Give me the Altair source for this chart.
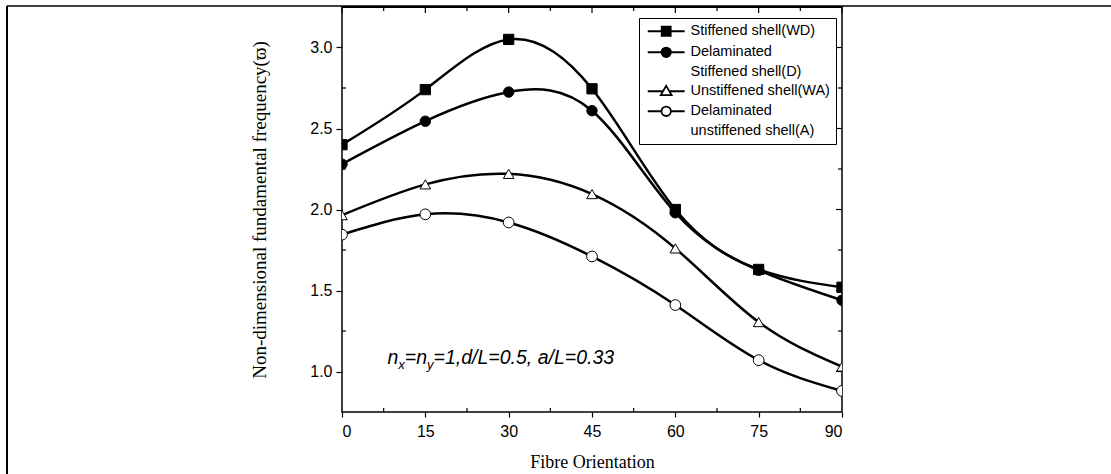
import altair as alt
import pandas as pd

# ---- data ----
orientation = [0, 15, 30, 45, 60, 75, 90]
stiffened_wd = [2.40, 2.74, 3.05, 2.745, 2.00, 1.63, 1.52]
delam_stiff_d = [2.28, 2.545, 2.725, 2.61, 1.98, 1.625, 1.44]
unstiff_wa = [1.965, 2.155, 2.22, 2.095, 1.76, 1.305, 1.03]
delam_unstiff_a = [1.845, 1.97, 1.92, 1.71, 1.41, 1.07, 0.88]

series_keys = ["WD", "D", "WA", "A"]
legend_keys = ["WD", "D", "D2", "WA", "A", "A2"]
legend_labels = ["Stiffened shell(WD)", "Delaminated", "Stiffened shell(D)",
                 "Unstiffened shell(WA)", "Delaminated", "unstiffened shell(A)"]

x_ticks = [0, 15, 30, 45, 60, 75, 90]
x_minor = [7.5, 22.5, 37.5, 52.5, 67.5, 82.5]
y_ticks = [1.0, 1.5, 2.0, 2.5, 3.0]
y_minor = [1.25, 1.75, 2.25, 2.75]

anno_pieces = ["n", "x", "=n", "y", "=1,d/L=0.5, a/L=0.33"]

# ---- tables ----
rows = []
for key, vals in zip(series_keys, [stiffened_wd, delam_stiff_d, unstiff_wa, delam_unstiff_a]):
    for o, v in zip(orientation, vals):
        rows.append({"orientation": o, "value": v, "series": key, "lkey": key})
df = pd.DataFrame(rows)

W, H = 500, 405
SANS = "Liberation Sans"
SERIF = "Liberation Serif"

x_scale = alt.Scale(domain=[0, 90], nice=False, zero=False)
y_scale = alt.Scale(domain=[0.75, 3.25], nice=False, zero=False)
x_axis = alt.Axis(values=x_ticks, title="Fibre Orientation", grid=False, domain=False,
                  tickSize=5, tickColor="black", tickWidth=1.2, labelPadding=6,
                  labelFont=SANS, labelFontSize=16, labelColor="black",
                  titleFont=SERIF, titleFontSize=18, titleFontWeight="normal",
                  titleColor="black", titlePadding=14)
y_axis = alt.Axis(values=y_ticks, format=".1f", title="Non-dimensional fundamental frequency(\u03d6)",
                  grid=False, domain=False, tickSize=6, tickColor="black", tickWidth=1.2,
                  labelPadding=4, labelFont=SANS, labelFontSize=16, labelColor="black",
                  titleFont=SERIF, titleFontSize=19, titleFontWeight="normal",
                  titleColor="black", titlePadding=40)
X = alt.X("orientation:Q", scale=x_scale, axis=x_axis)
Y = alt.Y("value:Q", scale=y_scale, axis=y_axis)

base = alt.Chart(df)

lines = base.mark_line(interpolate="natural", color="black", strokeWidth=2.5).encode(
    x=X, y=Y, detail="series:N")

points = base.mark_point(filled=True, stroke="black", strokeWidth=1, opacity=1, clip=True).encode(
    x=X, y=Y,
    shape=alt.Shape("series:N", scale=alt.Scale(domain=series_keys,
                    range=["square", "circle", "triangle-up", "circle"]), legend=None),
    fill=alt.Fill("series:N", scale=alt.Scale(domain=series_keys,
                  range=["black", "black", "white", "white"]), legend=None),
    size=alt.Size("series:N", scale=alt.Scale(domain=series_keys, range=[105, 115, 140, 115]), legend=None),
)

# legend symbols: line + marker (unit = 4.5 px)
m = 3.1
L0, L1 = -1, 7.2
p_square = f"M{L0},0H{m-1}M{m+1},0H{L1}M{m-1},-1H{m+1}V1H{m-1}Z"
p_circle = f"M{L0},0H{m-1.05}M{m+1.05},0H{L1}M{m-1.05},0A1.05,1.05 0 1,0 {m+1.05},0A1.05,1.05 0 1,0 {m-1.05},0Z"
p_tri = f"M{L0},0H{m-0.66}M{m+0.66},0H{L1}M{m},-1.2L{m+1.2},0.85H{m-1.2}Z"
p_none = "M0,0"
legend_paths = [p_square, p_circle, p_none, p_tri, p_circle, p_none]
legend_fills = ["black", "black", "white", "white", "white", "white"]
legend_strokes = ["black", "black", "white", "black", "black", "white"]

label_expr = " : ".join([f"datum.value == '{k}' ? '{t}'" for k, t in zip(legend_keys, legend_labels)]) + " : datum.label"

leg = alt.Legend(title=None, orient="none", legendX=297, legendY=11, labelExpr=label_expr,
                 labelFont=SANS, labelFontSize=14.5, labelColor="black", labelLimit=400,
                 padding=6, strokeColor="black", fillColor="white", cornerRadius=0,
                 symbolSize=81, symbolStrokeWidth=1.8,
                 symbolOpacity=1, labelOffset=31, rowPadding=3)

legend_layer = base.mark_point(filled=True, opacity=0, size=81).encode(
    x=X, y=Y,
    shape=alt.Shape("lkey:N", scale=alt.Scale(domain=legend_keys, range=legend_paths), legend=leg),
    fill=alt.Fill("lkey:N", scale=alt.Scale(domain=legend_keys, range=legend_fills), legend=leg),
    stroke=alt.Stroke("lkey:N", scale=alt.Scale(domain=legend_keys, range=legend_strokes), legend=leg),
)

# annotation (italic, with subscripts)
anno_x, anno_y = 8.2, 1.045
anno_dx = [0, 10.8, 17.3, 39.5, 46]
anno_dy = [0, 5, 0, 5, 0]
anno_size = [19.5, 13, 19.5, 13, 19.5]
anno_layers = []
for t, dx, dy, fs in zip(anno_pieces, anno_dx, anno_dy, anno_size):
    anno_layers.append(
        alt.Chart(pd.DataFrame({"orientation": [anno_x], "value": [anno_y]})).mark_text(
            text=t, align="left", baseline="alphabetic", dx=dx, dy=dy, font=SANS,
            fontSize=fs, fontStyle="italic", color="black").encode(x=X, y=Y))

# inward minor / mirrored ticks
xm = pd.DataFrame({"orientation": x_minor})
xM = pd.DataFrame({"orientation": x_ticks})
ym = pd.DataFrame({"value": y_minor})
yM = pd.DataFrame({"value": y_ticks})
tick_style = dict(color="black", strokeWidth=1.2)
ticks = [
    alt.Chart(xm).mark_rule(**tick_style).encode(x=X, y=alt.value(H), y2=alt.value(H - 4)),
    alt.Chart(xm).mark_rule(**tick_style).encode(x=X, y=alt.value(0), y2=alt.value(4)),
    alt.Chart(xM).mark_rule(**tick_style).encode(x=X, y=alt.value(0), y2=alt.value(6)),
    alt.Chart(ym).mark_rule(**tick_style).encode(y=Y, x=alt.value(0), x2=alt.value(4)),
    alt.Chart(ym).mark_rule(**tick_style).encode(y=Y, x=alt.value(W), x2=alt.value(W - 4)),
    alt.Chart(yM).mark_rule(**tick_style).encode(y=Y, x=alt.value(W), x2=alt.value(W - 6)),
]

# outer page frame (top and left)
frame_df = pd.DataFrame({"k": [0]})
frame = [
    alt.Chart(frame_df).mark_rule(color="black", strokeWidth=1.5).encode(
        x=alt.value(-335), x2=alt.value(769), y=alt.value(-1)),
    alt.Chart(frame_df).mark_rule(color="black", strokeWidth=2).encode(
        x=alt.value(-335), y=alt.value(-1), y2=alt.value(467)),
    alt.Chart(frame_df).mark_rule(color="black", strokeWidth=2).encode(
        x=alt.value(0), x2=alt.value(W), y=alt.value(0)),
]

chart = alt.layer(lines, points, legend_layer, *anno_layers, *ticks, *frame).resolve_scale(
    shape="independent", fill="independent", size="independent", stroke="independent"
).properties(
    width=W, height=H,
    autosize=alt.AutoSizeParams(type="none"),
    padding={"left": 342, "top": 7, "right": 269, "bottom": 62},
    background="white",
).configure_view(stroke="black", strokeWidth=1.5)

chart.save("out.html", embed_options={"renderer": "svg", "actions": False})
